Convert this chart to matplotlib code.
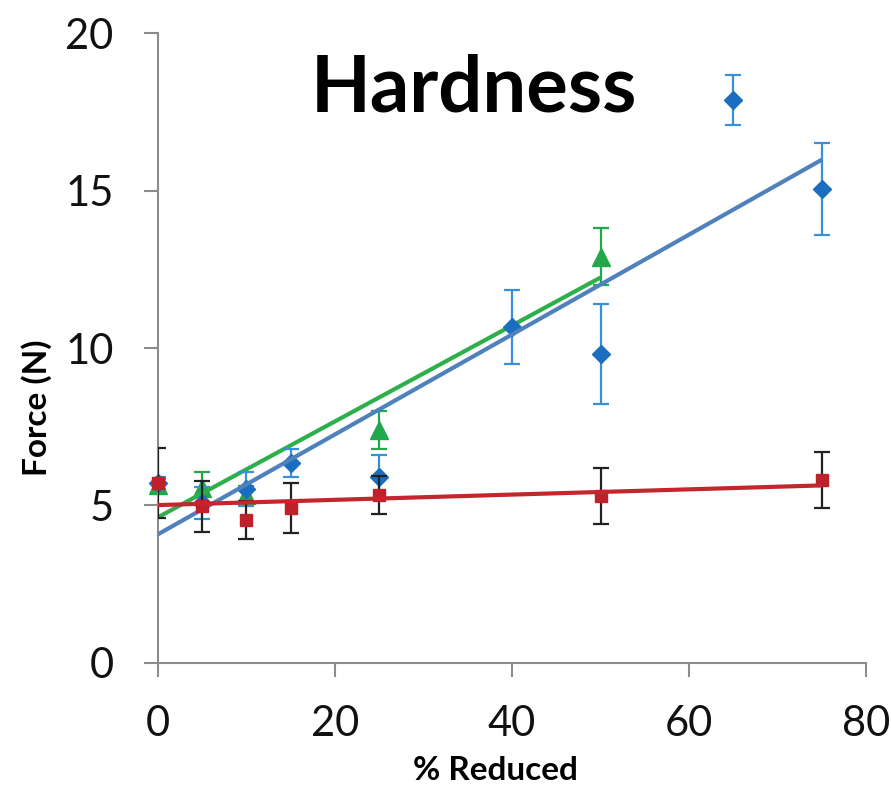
import numpy as np
import matplotlib
matplotlib.use("Agg")
import matplotlib.pyplot as plt

# Blue diamonds
blue_x = [0, 5, 10, 15, 25, 40, 50, 65, 75]
blue_y = [5.71, 5.08, 5.52, 6.35, 5.9, 10.67, 9.81, 17.87, 15.05]
blue_err = [0.2, 0.5, 0.55, 0.45, 0.7, 1.17, 1.6, 0.8, 1.46]

# Green triangles
green_x = [0, 5, 10, 25, 50]
green_y = [5.65, 5.55, 5.33, 7.4, 12.9]
green_err = [0.2, 0.5, 0.3, 0.6, 0.9]

# Red squares
red_x = [0, 5, 10, 15, 25, 50, 75]
red_y = [5.71, 4.98, 4.54, 4.92, 5.33, 5.3, 5.81]
red_err = [1.1, 0.81, 0.6, 0.8, 0.6, 0.88, 0.9]

xticks = [0, 20, 40, 60, 80]
yticks = [0, 5, 10, 15, 20]

plt.rcParams['font.family'] = ['Lato', 'DejaVu Sans']

fig = plt.figure(figsize=(8.91, 7.92), dpi=100)
ax = fig.add_axes([0.1773, 0.1629, 0.9720 - 0.1773, 0.9583 - 0.1629])


def series(x, y, err, marker, ms, mcolor, ecolor, lcolor, z):
    x = np.array(x, dtype=float)
    y = np.array(y, dtype=float)
    ax.errorbar(x, y, yerr=err, fmt='none', ecolor=ecolor, elinewidth=1.6,
                capsize=5.5, capthick=1.6, zorder=z)
    ax.plot(x, y, linestyle='none', marker=marker, ms=ms, color=mcolor,
            mec=mcolor, clip_on=False, zorder=z + 0.5)
    # linear trendline over the series' own x range
    m, b = np.polyfit(x, y, 1)
    xs = np.array([x.min(), x.max()])
    ax.plot(xs, m * xs + b, color=lcolor, lw=3, zorder=z + 0.8,
            solid_capstyle='butt')


series(green_x, green_y, green_err, '^', 13, '#21A84A', '#21A84A', '#2DB04B', 2)
series(blue_x, blue_y, blue_err, 'D', 9, '#1B6DC0', '#3A8FD9', '#4F81BD', 3)
series(red_x, red_y, red_err, 's', 9, '#C0202A', '#222222', '#C3262D', 4)

ax.set_xlim(0, 80)
ax.set_ylim(0, 20)
ax.set_xticks(xticks)
ax.set_yticks(yticks)
for s in ['top', 'right']:
    ax.spines[s].set_visible(False)
for s in ['left', 'bottom']:
    ax.spines[s].set_color('#8c8c8c')
    ax.spines[s].set_linewidth(1.5)
ax.tick_params(axis='both', direction='out', length=10, width=1.5,
               color='#8c8c8c', labelsize=30, labelcolor='#111111')
ax.tick_params(axis='y', pad=22)
ax.tick_params(axis='x', pad=20)

ax.set_ylabel('Force (N)', fontsize=24, fontweight='bold')
ax.yaxis.set_label_coords(-0.150, 0.405)
ax.set_xlabel('% Reduced', fontsize=24, fontweight='bold')
ax.xaxis.label.set_va('center')
ax.xaxis.set_label_coords(0.477, -0.171)

fig.text(474 / 891, 1 - 112 / 792, 'Hardness', fontsize=56, fontweight='bold',
         ha='center', va='baseline')

fig.savefig('out.png', dpi=100)
